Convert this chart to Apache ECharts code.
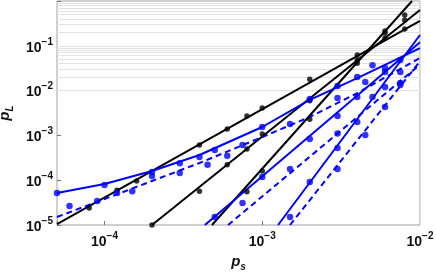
<!DOCTYPE html>
<html>
<head>
<meta charset="utf-8">
<script src="https://cdn.jsdelivr.net/npm/echarts@6/dist/echarts.min.js"></script>
<style>html,body{margin:0;padding:0;background:#fff}#c{width:436px;height:273px}</style>
</head>
<body>
<div id="c"></div>
<script>
// ---- fitted curves [p_s, p_L] ----
const blackFit1 = [[5e-5, 1.05e-5], [1e-2, 0.358]];
const blackFit2 = [[2e-4, 1.0e-5], [1e-2, 0.63]];
const blackFit3 = [[4.8e-4, 1.0e-5], [8.9e-3, 1.0]];
const blueFit1 = [[5e-5, 5.2e-5], [1e-4, 8.2e-5], [2e-4, 1.6e-4], [4e-4, 3.65e-4], [1e-3, 1.54e-3], [2e-3, 6.2e-3], [4e-3, 0.019], [1e-2, 0.089]];
const blueFit2 = [[4.33e-4, 1e-5], [1e-2, 0.12]];
const blueFit3 = [[1.26e-3, 1e-5], [1e-2, 0.174]];
const dashFit1 = [[5e-5, 1.51e-5], [1e-4, 3.8e-5], [2e-4, 9.6e-5], [4e-4, 2.42e-4], [1e-3, 9.2e-4], [2e-3, 2.58e-3], [4e-3, 8.8e-3], [1e-2, 0.0535]];
const dashFit2 = [[6.07e-4, 1e-5], [1e-2, 0.038]];
const dashFit3 = [[1.5e-3, 1e-5], [1e-2, 0.045]];

// ---- data points ----
const black1Ps = [8e-5, 1.2e-4, 1.6e-4, 4e-4, 6e-4, 8e-4, 1e-3, 2e-3, 4e-3, 6e-3, 8e-3];
const black1PL = [2.4e-5, 6.0e-5, 9.6e-5, 6.1e-4, 1.39e-3, 2.7e-3, 4.1e-3, 0.018, 0.062, 0.149, 0.237];
const black2Ps = [2e-4, 4e-4, 6e-4, 8e-4, 1e-3, 2e-3, 4e-3, 6e-3, 8e-3];
const black2PL = [1.0e-5, 5.7e-5, 2.2e-4, 5.0e-4, 1.07e-3, 5.9e-3, 0.048, 0.193, 0.377];
const black3Ps = [8e-4, 1e-3, 2e-3, 4e-3, 6e-3, 8e-3];
const black3PL = [5.5e-5, 1.6e-4, 2.3e-3, 0.041, 0.214, 0.49];

const blue1Ps = [5e-5, 1e-4, 2e-4, 3e-4, 4e-4, 5e-4, 1e-3, 2e-3, 3e-3, 4e-3, 5e-3, 6e-3];
const blue1PL = [5.2e-5, 7.8e-5, 1.52e-4, 2.4e-4, 3.3e-4, 4.7e-4, 1.54e-3, 6.5e-3, 0.0127, 0.020, 0.037, 0.032];
const blue2Ps = [5e-4, 1e-3, 2e-3, 3e-3, 4e-3, 6e-3];
const blue2PL = [1.5e-5, 1.18e-4, 8.3e-4, 2.7e-3, 7.2e-3, 0.026];
const blue3Ps = [2e-3, 3e-3, 4e-3, 6e-3, 7.5e-3];
const blue3PL = [9.1e-5, 5.2e-4, 2.0e-3, 0.012, 0.048];

const dash1Ps = [6e-5, 9e-5, 1.2e-4, 1.5e-4, 2e-4, 3e-4, 4.5e-4, 6e-4, 7.5e-4, 1.5e-3, 3e-3, 4.5e-3, 7.5e-3];
const dash1PL = [2.65e-5, 3.44e-5, 5.2e-5, 5.7e-5, 1.24e-4, 1.45e-4, 2.2e-4, 3.5e-4, 6.1e-4, 1.8e-3, 6.8e-3, 0.0156, 0.026];
const dash2Ps = [7.5e-4, 1.5e-3, 3e-3, 5e-3, 7.5e-3];
const dash2PL = [3.1e-5, 1.78e-4, 1.1e-3, 7.2e-3, 0.0148];
const dash3Ps = [1.5e-3, 3e-3, 4.5e-3, 6e-3, 7.5e-3];
const dash3PL = [1.5e-5, 1.78e-4, 1.02e-3, 4.3e-3, 0.0133];

// axis ranges
const xMin = 5e-5, xMax = 1e-2, yMin = 1e-5, yMax = 1;
const xDecades = [-5, -4, -3, -2];
const yDecades = [-5, -4, -3, -2, -1];

const BLACK = '#000000', BLUE = '#0000ff';
const zip = (a, b) => a.map((v, i) => [v, b[i]]);

// grid lines positions (1..9 x 10^n within range)
const gridX = [], gridY = [];
xDecades.forEach(e => { for (let k = 1; k <= 9; k++) { const v = k * Math.pow(10, e); if (v > xMin * 1.001 && v < xMax * 0.999) gridX.push(v); } });
yDecades.forEach(e => { for (let k = 1; k <= 9; k++) { const v = k * Math.pow(10, e); if (v > yMin * 1.001 && v < yMax * 0.999) gridY.push(v); } });

function powLabel(v) {
  const e = Math.log10(v);
  const r = Math.round(e);
  if (Math.abs(e - r) > 1e-6 || r === 0) return '';
  return '{b|10}{s|' + (r < 0 ? '\u2212' + (-r) : r) + '}';
}
const labelRich = {
  b: { fontSize: 14, fontWeight: 'bold', fontFamily: 'Liberation Sans', color: '#111', verticalAlign: 'bottom', lineHeight: 18 },
  s: { fontSize: 10, fontWeight: 'bold', fontFamily: 'Liberation Sans', color: '#111', verticalAlign: 'top', lineHeight: 18 }
};
const nameRich = {
  i: { fontSize: 15, fontWeight: 'bold', fontStyle: 'italic', fontFamily: 'Liberation Sans', color: '#111', verticalAlign: 'top', lineHeight: 18 },
  u: { fontSize: 10, fontWeight: 'bold', fontStyle: 'italic', fontFamily: 'Liberation Sans', color: '#111', verticalAlign: 'bottom', lineHeight: 18 }
};

function fitLine(data, color, dashed) {
  return { type: 'line', data: data, showSymbol: false, symbol: 'none', silent: true, clip: true, zlevel: 1, z: 3,
    lineStyle: { color: color, width: 2, type: dashed ? [6, 4] : 'solid' } };
}
function pts(ps, pl, color, size) {
  return { type: 'scatter', data: zip(ps, pl), symbol: 'circle', symbolSize: size, clip: true, zlevel: 1, z: 4,
    itemStyle: { color: color } };
}

const chart = echarts.init(document.getElementById('c'), null, { renderer: 'canvas' });
chart.setOption({
  animation: false,
  backgroundColor: '#fff',
  grid: { left: 57, right: 16, top: 1, bottom: 48, outerBoundsMode: 'none', containLabel: false,
    show: true, borderColor: '#a0a0a0', borderWidth: 1, backgroundColor: 'transparent' },
  xAxis: {
    type: 'log', logBase: 10, min: xMin, max: xMax,
    name: '{i|p}{u|s}', nameLocation: 'middle', nameGap: 29,
    nameTextStyle: { rich: nameRich },
    axisLine: { show: false },
    axisTick: { show: true, inside: true, length: 4, lineStyle: { color: '#777' } },
    splitLine: { show: false },
    axisLabel: { formatter: powLabel, rich: labelRich, margin: 6, showMinLabel: true, showMaxLabel: true }
  },
  yAxis: {
    type: 'log', logBase: 10, min: yMin, max: yMax,
    name: '{i|p}{u|L}', nameLocation: 'middle', nameGap: 38,
    nameTextStyle: { rich: nameRich },
    axisLine: { show: false },
    axisTick: { show: true, inside: true, length: 4, lineStyle: { color: '#777' } },
    splitLine: { show: false },
    axisLabel: { formatter: powLabel, rich: labelRich, margin: 4, showMinLabel: true, showMaxLabel: true }
  },
  series: [
    { type: 'line', data: [], silent: true, zlevel: 0, z: 1,
      markLine: { silent: true, symbol: 'none', animation: false, label: { show: false },
        lineStyle: { color: '#e2e2e2', width: 1, type: 'solid' },
        data: gridX.map(v => ({ xAxis: v })).concat(gridY.map(v => ({ yAxis: v }))) } },
    fitLine(blackFit1, BLACK), fitLine(blackFit2, BLACK), fitLine(blackFit3, BLACK),
    fitLine(blueFit1, BLUE), fitLine(blueFit2, BLUE), fitLine(blueFit3, BLUE),
    fitLine(dashFit1, BLUE, true), fitLine(dashFit2, BLUE, true), fitLine(dashFit3, BLUE, true),
    pts(black1Ps, black1PL, BLACK, 5.5), pts(black2Ps, black2PL, BLACK, 5.5), pts(black3Ps, black3PL, BLACK, 5.5),
    pts(blue1Ps, blue1PL, BLUE, 6.5), pts(blue2Ps, blue2PL, BLUE, 6.5), pts(blue3Ps, blue3PL, BLUE, 6.5),
    pts(dash1Ps, dash1PL, BLUE, 6.5), pts(dash2Ps, dash2PL, BLUE, 6.5), pts(dash3Ps, dash3PL, BLUE, 6.5)
  ]
});
</script>
</body>
</html>
